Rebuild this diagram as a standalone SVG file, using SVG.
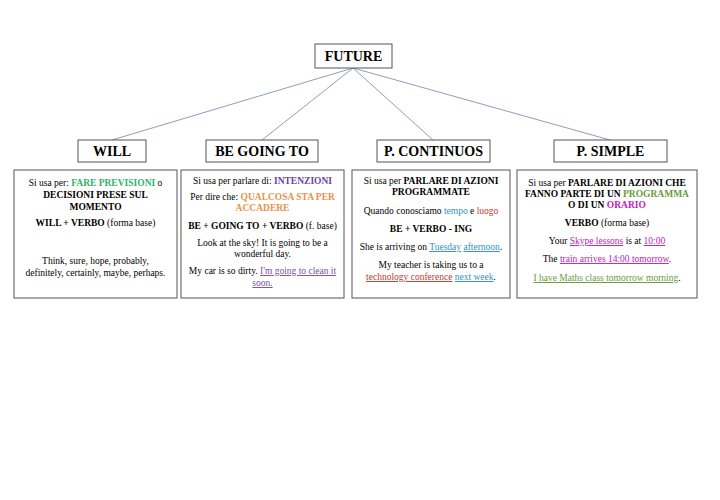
<svg xmlns="http://www.w3.org/2000/svg" width="720" height="500" viewBox="0 0 720 500">
<style>
.b{fill:#fff;stroke:#555;stroke-width:1}
.h{font-family:"Liberation Serif",serif;font-weight:bold;font-size:14px;text-anchor:middle;fill:#000}
.t{font-family:"Liberation Serif",serif;font-size:9.5px;text-anchor:middle;fill:#000}
.k{font-weight:bold}
.c{stroke:#8aa0bd;stroke-width:1;fill:none}
.g{fill:#2fb36b;font-weight:bold}.p{fill:#6a3fa8;font-weight:bold}.o{fill:#e8914a;font-weight:bold}
.bl{fill:#2f8fcf}.r{fill:#c0392b}.gr{fill:#6a9a3a}.m{fill:#c020c0}
.u{text-decoration:underline}
</style>
<rect width="720" height="500" fill="#fff"/>
<g id="connectors">
<path class="c" d="M353 68L112 140M353 68L262 140M353 68L433 140M353 68L610 140"/>
</g>
<g id="future"><rect class="b" x="315" y="44" width="77" height="24"/><text class="h" x="353.5" y="61">FUTURE</text></g>
<g id="will"><rect class="b" x="78" y="140" width="68" height="22"/><text class="h" x="112" y="156">WILL</text>
<rect class="b" x="14" y="170" width="163" height="128"/>
<text class="t" y="186"><tspan x="95.5">Si usa per: <tspan class="g">FARE PREVISIONI</tspan> o</tspan><tspan x="95.5" dy="12" class="k">DECISIONI PRESE SUL</tspan><tspan x="95.5" dy="12" class="k">MOMENTO</tspan><tspan x="95.5" dy="16"><tspan class="k">WILL + VERBO</tspan> (forma base)</tspan><tspan x="95.5" dy="38">Think, sure, hope, probably,</tspan><tspan x="95.5" dy="12">definitely, certainly, maybe, perhaps.</tspan></text></g>
<g id="going"><rect class="b" x="206" y="140" width="112" height="22"/><text class="h" x="262" y="156">BE GOING TO</text>
<rect class="b" x="181" y="170" width="163" height="128"/>
<text class="t" y="184"><tspan x="262.5">Si usa per parlare di: <tspan class="p">INTENZIONI</tspan></tspan><tspan x="262.5" dy="16">Per dire che: <tspan class="o">QUALCOSA STA PER</tspan></tspan><tspan x="262.5" dy="11" class="o">ACCADERE</tspan><tspan x="262.5" dy="18" class="k">BE + GOING TO + VERBO <tspan font-weight="normal">(f. base)</tspan></tspan><tspan x="262.5" dy="17">Look at the sky! It is going to be a</tspan><tspan x="262.5" dy="11">wonderful day.</tspan><tspan x="262.5" dy="17">My car is so dirty. <tspan class="u" fill="#7a4fa8">I'm going to clean it</tspan></tspan><tspan x="262.5" dy="12" class="u" fill="#7a4fa8">soon.</tspan></text></g>
<g id="cont"><rect class="b" x="377" y="140" width="113" height="22"/><text class="h" x="433.5" y="156">P. CONTINUOS</text>
<rect class="b" x="352" y="170" width="158" height="128"/>
<text class="t" y="184"><tspan x="431">Si usa per <tspan class="k">PARLARE DI AZIONI</tspan></tspan><tspan x="431" dy="11" class="k">PROGRAMMATE</tspan><tspan x="431" dy="19">Quando conosciamo <tspan class="bl">tempo</tspan> e <tspan class="r">luogo</tspan></tspan><tspan x="431" dy="18" class="k">BE + VERBO - ING</tspan><tspan x="431" dy="18">She is arriving on <tspan class="bl u">Tuesday</tspan> <tspan class="bl u">afternoon</tspan>.</tspan><tspan x="431" dy="18">My teacher is taking us to a</tspan><tspan x="431" dy="12"><tspan class="r u">technology conference</tspan> <tspan class="bl u">next week</tspan>.</tspan></text></g>
<g id="simple"><rect class="b" x="554" y="140" width="113" height="22"/><text class="h" x="610.5" y="156">P. SIMPLE</text>
<rect class="b" x="517" y="170" width="180" height="128"/>
<text class="t" y="186"><tspan x="607">Si usa per <tspan class="k">PARLARE DI AZIONI CHE</tspan></tspan><tspan x="607" dy="11" class="k">FANNO PARTE DI UN <tspan class="gr">PROGRAMMA</tspan></tspan><tspan x="607" dy="11" class="k">O DI UN <tspan class="m">ORARIO</tspan></tspan><tspan x="607" dy="18"><tspan class="k">VERBO</tspan> (forma base)</tspan><tspan x="607" dy="18">Your <tspan class="m u">Skype lessons</tspan> is at <tspan class="m u">10:00</tspan></tspan><tspan x="607" dy="18">The <tspan class="m u">train arrives 14:00 tomorrow</tspan>.</tspan><tspan x="607" dy="19"><tspan class="gr u">I have Maths class tomorrow morning</tspan>.</tspan></text></g>
</svg>
